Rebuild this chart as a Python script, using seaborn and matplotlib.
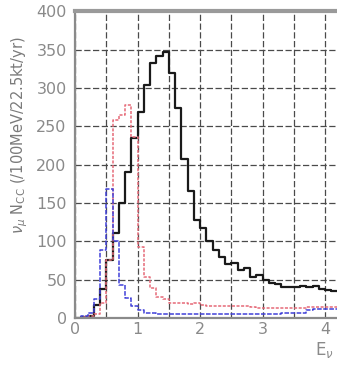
import numpy as np
import pandas as pd
import matplotlib
matplotlib.use("Agg")
import matplotlib.pyplot as plt
import seaborn as sns
from matplotlib.ticker import MultipleLocator

# Neutrino energy bins (GeV), 100 MeV wide: lower edges 0.0 ... 4.9
bin_lo = [round(0.1 * i, 1) for i in range(50)]

# nu_mu CC event counts per 100 MeV per 22.5 kt-yr for three beam configurations
counts_black = [0, 1, 3, 17, 38, 76, 111, 150, 191, 235,
                269, 304, 333, 342, 347, 319, 274, 207, 165, 128,
                118, 100, 89, 80, 70, 72, 63, 65, 54, 56,
                50, 46, 44, 41, 41, 40, 42, 41, 42, 38,
                37, 35, 34, 33, 32, 31, 30, 29, 28, 27]
counts_red = [0, 1, 2, 5, 20, 75, 258, 265, 278, 236,
              93, 54, 39, 28, 25, 19, 19, 19, 18, 19,
              17, 16, 16, 16, 15, 15, 15, 15, 14, 13,
              13, 13, 13, 13, 13, 13, 13, 14, 14, 14,
              14, 14, 14, 13, 13, 13, 13, 13, 13, 13]
counts_blue = [0, 2, 6, 25, 89, 168, 100, 43, 26, 16,
               10, 7, 6, 5, 5, 5, 5, 5, 5, 5,
               5, 5, 5, 5, 5, 5, 5, 5, 5, 5,
               5, 5, 5, 6, 6, 6, 7, 11, 12, 12,
               12, 12, 12, 12, 12, 12, 12, 12, 12, 12]

x_ticks = [0, 1, 2, 3, 4]
y_ticks = [0, 50, 100, 150, 200, 250, 300, 350, 400]

centers = np.array(bin_lo) + 0.05
df = pd.DataFrame({
    "E": np.concatenate([centers] * 3),
    "N": np.concatenate([counts_black, counts_red, counts_blue]),
    "beam": ["black"] * 50 + ["red"] * 50 + ["blue"] * 50,
})

sns.set_style("white")
plt.rcParams["font.family"] = ["DejaVu Sans"]

W, H = 337, 369
fig = plt.figure(figsize=(W / 100, H / 100), dpi=100)
fig.patch.set_facecolor("white")

# axes run past the right edge of the figure
left_px, zero_px, top_px, unit_px = 75, 318, 11.3, 62.5
ax = fig.add_axes([left_px / W, (H - zero_px) / H,
                   5 * unit_px / W, (zero_px - top_px) / H])

styles = {
    "black": dict(color="#1a1a1a", linewidth=1.6, linestyle="-"),
    "red": dict(color="#e66a78", linewidth=1.1, linestyle=(0, (2.0, 1.0))),
    "blue": dict(color="#4040d8", linewidth=1.1, linestyle=(0, (3.0, 1.0))),
}
for name in ["black", "red", "blue"]:
    sub = df[df["beam"] == name]
    sns.histplot(data=sub, x="E", weights="N", binwidth=0.1, binrange=(0, 5),
                 element="step", fill=False, ax=ax, **styles[name])

ax.set_xlim(0, 5)
ax.set_ylim(0, 400)
ax.set_xticks(x_ticks)
ax.set_yticks(y_ticks)
ax.xaxis.set_minor_locator(MultipleLocator(0.5))
ax.yaxis.set_minor_locator(MultipleLocator(10))
ax.set_xlabel("")
ax.set_ylabel("")

ax.grid(True, which="major", axis="both", color="#4a4a4a",
        linestyle=(0, (5, 2)), linewidth=0.9)
ax.grid(True, which="minor", axis="x", color="#4a4a4a",
        linestyle=(0, (5, 2)), linewidth=0.9)
ax.set_axisbelow(True)

ax.tick_params(axis="both", which="major", direction="in", length=5,
               width=1, color="#777777", labelsize=11.5, labelcolor="#8a8a8a")
ax.tick_params(axis="y", which="major", pad=6)
ax.tick_params(axis="x", which="major", pad=3)
ax.tick_params(axis="y", which="minor", direction="in", length=2.5,
               width=0.8, color="#777777")
ax.tick_params(axis="x", which="minor", length=0)

for side in ["left", "bottom"]:
    ax.spines[side].set_color("#8a8a8a")
    ax.spines[side].set_linewidth(1.6)
ax.spines["top"].set_color("#9a9a9a")
ax.spines["top"].set_linewidth(3)
ax.spines["right"].set_visible(False)

fig.text(20 / W, 1 - 135 / H,
         r"$\nu_\mu$ N$_{\rm CC}$ (/100MeV/22.5kt/yr)",
         rotation=90, ha="center", va="center", fontsize=10.5,
         color="#7a7a7a")
fig.text(315 / W, 1 - 350 / H, r"E$_\nu$", ha="left", va="center",
         fontsize=12, color="#8a8a8a")

fig.savefig("out.png", dpi=100)
